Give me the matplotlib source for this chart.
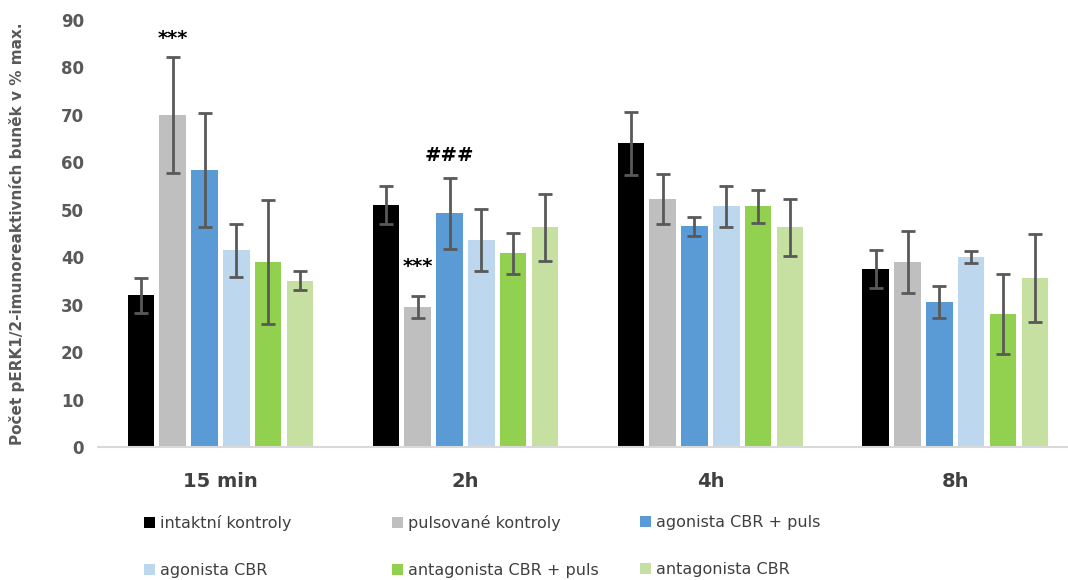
import matplotlib.pyplot as plt
import numpy as np
from matplotlib.legend import Legend

# data
casy = ["15 min", "2h", "4h", "8h"]
skupiny = [
    "intaktní kontroly",
    "pulsované kontroly",
    "agonista CBR + puls",
    "agonista CBR",
    "antagonista CBR + puls",
    "antagonista CBR",
]
barvy = ["#000000", "#bfbfbf", "#5b9bd5", "#bdd7ee", "#92d050", "#c5e0a0"]

# hodnoty po skupinach (radek = skupina, sloupec = cas)
intaktni = [32.0, 51.0, 64.0, 37.5]
pulsovane = [70.0, 29.5, 52.3, 39.0]
agonista_puls = [58.3, 49.3, 46.5, 30.5]
agonista = [41.5, 43.7, 50.7, 40.0]
antagonista_puls = [39.0, 40.8, 50.7, 28.0]
antagonista = [35.0, 46.3, 46.3, 35.7]

# chyby (SEM)
err_intaktni = [3.7, 4.0, 6.6, 4.0]
err_pulsovane = [12.3, 2.3, 5.3, 6.5]
err_agonista_puls = [12.0, 7.5, 2.0, 3.4]
err_agonista = [5.6, 6.5, 4.4, 1.3]
err_antagonista_puls = [13.0, 4.3, 3.4, 8.5]
err_antagonista = [2.0, 7.0, 6.0, 9.3]

hodnoty = [intaktni, pulsovane, agonista_puls, agonista, antagonista_puls, antagonista]
chyby = [err_intaktni, err_pulsovane, err_agonista_puls, err_agonista,
         err_antagonista_puls, err_antagonista]

# oznaceni vyznamnosti: (cas, skupina, text, y)
vyznamnost = [
    (0, 1, "***", 86.0),
    (1, 1, "***", 38.0),
    (1, 2, "###", 61.5),
]

seda_text = "#595959"

fig = plt.figure(figsize=(10.68, 5.8), dpi=100)
ax = fig.add_axes([98 / 1068, 133 / 580, 970 / 1068, 427 / 580])

x = np.arange(len(casy))
krok = 0.13
sirka = 0.108
bary = []
for i, (h, e) in enumerate(zip(hodnoty, chyby)):
    pos = x + (i - 2.5) * krok
    b = ax.bar(pos, h, width=sirka, color=barvy[i], label=skupiny[i], zorder=2)
    ax.errorbar(pos, h, yerr=e, fmt="none", ecolor=seda_text, elinewidth=2.0,
                capsize=5, capthick=2, zorder=3)
    bary.append(b)

for c, s, txt, y in vyznamnost:
    ax.text(x[c] + (s - 2.5) * krok, y, txt, ha="center", va="center",
            fontsize=14, fontweight="bold", color="black")

ax.set_ylim(0, 90)
ax.set_xlim(-0.5, 3.46)
ax.set_yticks(np.arange(0, 91, 10))
ax.set_xticks(x)
ax.set_xticklabels(casy, fontsize=14, fontweight="bold", color="#404040")
ax.tick_params(axis="y", labelsize=12, labelcolor=seda_text, length=0, pad=10)
ax.tick_params(axis="x", length=0, pad=18)
for lbl in ax.get_yticklabels():
    lbl.set_fontweight("bold")

for s in ["top", "right", "left"]:
    ax.spines[s].set_visible(False)
ax.spines["bottom"].set_color("#d9d9d9")
ax.spines["bottom"].set_linewidth(1.5)

ax.set_ylabel("Počet pERK1/2-imunoreaktivních buněk v % max.", fontsize=11,
              fontweight="bold", color=seda_text)
ax.yaxis.set_label_coords(-0.075, 0.5)

# legenda: tri sloupce po dvou polozkach
sloupce = [(0, 3), (1, 4), (2, 5)]
leg_x = [0.047, 0.303, 0.559]
for (a, b), lx in zip(sloupce, leg_x):
    leg = Legend(ax, [bary[a], bary[b]], [skupiny[a], skupiny[b]],
                 loc="upper left", bbox_to_anchor=(lx, -0.16),
                 frameon=False, fontsize=11.5, handlelength=0.7,
                 handleheight=0.7, handletextpad=0.3, labelspacing=2.0,
                 borderaxespad=0, borderpad=0)
    for t in leg.get_texts():
        t.set_color("#404040")
    ax.add_artist(leg)

fig.savefig("out.png", dpi=100)
